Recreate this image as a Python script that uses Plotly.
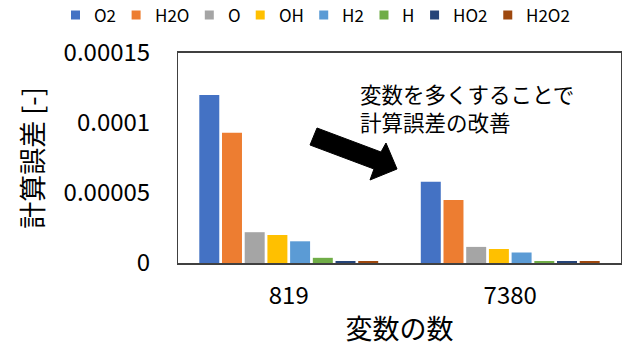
import plotly.graph_objects as go

categories = ["819", "7380"]
species = ["O2", "H2O", "O", "OH", "H2", "H", "HO2", "H2O2"]
values_819 = [1.2e-4, 9.3e-5, 2.2e-5, 2.0e-5, 1.55e-5, 3.7e-6, 1.0e-6, 1.0e-6]
values_7380 = [5.8e-5, 4.5e-5, 1.15e-5, 1.0e-5, 7.5e-6, 1.0e-6, 1.0e-6, 1.0e-6]
colors = ["#4472C4", "#ED7D31", "#A5A5A5", "#FFC000", "#5B9BD5", "#70AD47", "#264478", "#9E480E"]
ytick_vals = [0, 0.00005, 0.0001, 0.00015]
ytick_text = ["0", "0.00005", "0.0001", "0.00015"]

W, H = 640, 360
L, R, T, B = 178, 19, 53, 97
pw, ph = W - L - R, H - T - B

def px(x, y):
    return (x - L) / pw, (H - B - y) / ph

font_jp = "Noto Sans CJK JP, Noto Sans, sans-serif"

fig = go.Figure()
for i, s in enumerate(species):
    fig.add_trace(go.Bar(
        x=categories, y=[values_819[i], values_7380[i]], name=s,
        marker=dict(color=colors[i], line=dict(width=0)),
        showlegend=False,
    ))

# custom one-row legend (plotly's own legend wraps at this width)
LEG_FONT = 17
char_w = {"O": 0.76, "H": 0.74, "2": 0.57}
def text_w(s):
    return sum(char_w.get(c, 0.6) for c in s) * LEG_FONT

cursor = 71
leg_y = 15
for s, c in zip(species, colors):
    x0, y0 = px(cursor, leg_y - 4.5)
    x1, y1 = px(cursor + 9, leg_y + 4.5)
    fig.add_shape(type="rect", xref="paper", yref="paper", x0=x0, x1=x1, y0=y1, y1=y0,
                  fillcolor=c, line=dict(width=0))
    tx, ty = px(cursor + 21, leg_y)
    fig.add_annotation(text=s, xref="paper", yref="paper", x=tx, y=ty,
                       xanchor="left", yanchor="middle", showarrow=False,
                       font=dict(family=font_jp, size=LEG_FONT, color="black"))
    cursor += 21 + text_w(s) + 17

arrow_px = [(317, 128), (381, 152), (386, 143), (397, 169), (370, 180), (374, 169), (310, 145)]
pts = [px(x, y) for x, y in arrow_px]
path = "M " + " L ".join(f"{a:.4f},{b:.4f}" for a, b in pts) + " Z"
fig.add_shape(type="path", path=path, xref="paper", yref="paper",
              fillcolor="black", line=dict(color="black", width=1))

fig.add_annotation(
    text="変数を多くすることで<br>計算誤差の改善",
    xref="paper", yref="paper", x=px(358, 0)[0], y=px(0, 76)[1],
    xanchor="left", yanchor="top", align="left", showarrow=False,
    font=dict(family=font_jp, size=21.5, color="black"),
)

fig.update_layout(
    width=W, height=H,
    margin=dict(l=L, r=R, t=T, b=B, autoexpand=False),
    paper_bgcolor="white", plot_bgcolor="white",
    barmode="group", bargap=0.18, bargroupgap=0.12,
    font=dict(family=font_jp, color="black"),
    showlegend=False,
    xaxis=dict(showline=True, linecolor="#404040", linewidth=1.5, mirror=True,
               automargin=False,
               tickfont=dict(size=24, family=font_jp), ticks="", ticklabelstandoff=10,
               title=dict(text="変数の数", font=dict(size=27, family=font_jp), standoff=11)),
    yaxis=dict(range=[0, 0.00015], tickvals=ytick_vals, ticktext=ytick_text,
               showgrid=False, zeroline=False, automargin=False,
               showline=True, linecolor="#404040", linewidth=1, mirror=True,
               tickfont=dict(size=24, family=font_jp), ticks="", ticklabelstandoff=22,
               title=dict(text="計算誤差 [-]", font=dict(size=27, family=font_jp), standoff=12)),
)

fig.write_html("out.html", post_script="document.body.style.margin='0';",
               config={"displayModeBar": False})
